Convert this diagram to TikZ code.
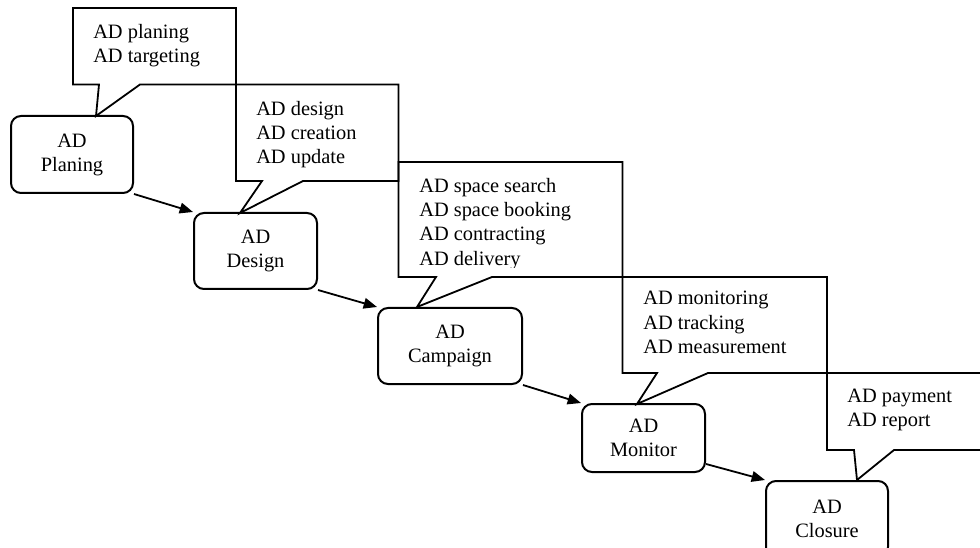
\documentclass[tikz,border=0pt]{standalone}
\usepackage{fontspec}
\setmainfont{Liberation Serif}
\usetikzlibrary{arrows.meta,calc}
\newcommand\stagefont{\fontsize{15.3}{18}\selectfont}
\newcommand\notefont{\fontsize{15.3}{18.2}\selectfont}
\begin{document}
\begin{tikzpicture}[x=0.75pt,y=-0.75pt,
  stage/.style={draw,line width=1.5pt,rounded corners=7.5pt,align=center,inner sep=0pt,font=\stagefont},
  callout/.style={draw,line width=1.35pt,line join=miter},
  note/.style={anchor=north west,align=left,inner sep=0pt,font=\notefont},
  flow/.style={line width=1.35pt,-{Triangle[length=10pt,width=8pt]}}]

% page frame: everything outside is cut off
\clip (0,0) rectangle (980,548);

% process stages
\node[stage,minimum width=91.5pt,minimum height=57.75pt] (plan) at (72,154.5) {AD\\Planing};
\node[stage,minimum width=92.25pt,minimum height=57pt] (des) at (255.5,251) {AD\\Design};
\node[stage,minimum width=108pt,minimum height=57pt] (camp) at (450,346) {AD\\Campaign};
\node[stage,minimum width=92.25pt,minimum height=51pt] (mon) at (643.5,438) {AD\\Monitor};
\node[stage,minimum width=91.5pt,minimum height=57pt] (clo) at (827,519) {};
\begin{scope}
  \clip (740,470) rectangle (900,538.5);
  \node[align=center,inner sep=0pt,font=\stagefont] (clolabel) at (clo.center) {AD\\Closure};
\end{scope}

% flow between stages
\draw[flow] (plan.south east) -- (des.north west);
\draw[flow] (des.south east) -- (camp.north west);
\draw[flow] (camp.south east) -- (mon.north west);
\draw[flow] ([yshift=6.75pt]mon.south east) -- (clo.north west);

% speech-bubble callouts with the activities of each stage
\draw[callout] (73,8) -- (236,8) -- (236,84.5) -- (140,84.5) -- (96,116) -- (99,84.5) -- (73,84.5) -- cycle;
\draw[callout] (236,84.5) -- (398.5,84.5) -- (398.5,181) -- (303,181) -- (240,213) -- (262,181) -- (236,181) -- cycle;
\draw[callout] (398.5,162) -- (622.5,162) -- (622.5,277) -- (492,277) -- (417,307) -- (436,277) -- (398.5,277) -- cycle;
\draw[callout] (622.5,277) -- (827,277) -- (827,373) -- (708,373) -- (637,404) -- (657,373) -- (622.5,373) -- cycle;
\draw[callout] (827,373) -- (995,373) -- (995,450) -- (894,450) -- (857,480) -- (854,450) -- (827,450) -- cycle;

\node[note] (n1) at (93,24) {AD planing\\AD targeting};
\node[note] (n2) at (256,101) {AD design\\AD creation\\AD update};
\begin{scope}
  \clip (398.5,162) rectangle (622.5,267.5);
  \node[note] (n3) at (419,178) {AD space search\\AD space booking\\AD contracting\\AD delivery};
\end{scope}
\node[note] (n4) at (643,291) {AD monitoring\\AD tracking\\AD measurement};
\node[note] (n5) at (847,388.5) {AD payment\\AD report};
\end{tikzpicture}
\end{document}
